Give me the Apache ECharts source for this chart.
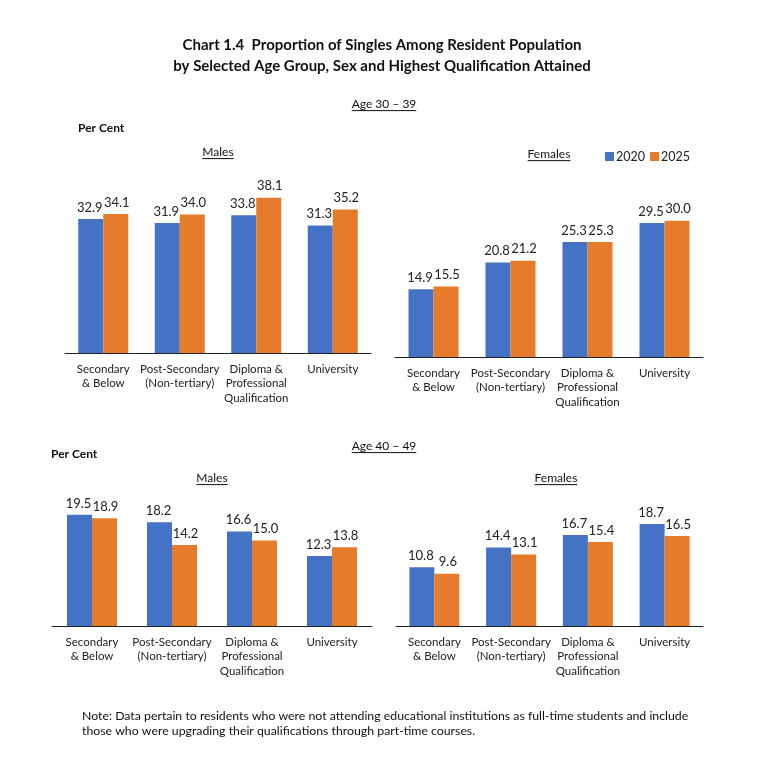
<!DOCTYPE html>
<html>
<head>
<meta charset="utf-8">
<script src="https://cdn.jsdelivr.net/npm/echarts@6/dist/echarts.min.js"></script>
<style>
  html, body { margin: 0; padding: 0; background: #fff; }
  #chart { width: 757px; height: 767px; }
</style>
</head>
<body>
<div id="chart"></div>
<script>
// categories and values
var categories = ['Secondary\n& Below', 'Post-Secondary\n(Non-tertiary)', 'Diploma &\nProfessional\nQualification', 'University'];
var years = ['2020', '2025'];

var male30_2020 = [32.9, 31.9, 33.8, 31.3];
var male30_2025 = [34.1, 34.0, 38.1, 35.2];
var female30_2020 = [14.9, 20.8, 25.3, 29.5];
var female30_2025 = [15.5, 21.2, 25.3, 30.0];

var male40_2020 = [19.5, 18.2, 16.6, 12.3];
var male40_2025 = [18.9, 14.2, 15.0, 13.8];
var female40_2020 = [10.8, 14.4, 16.7, 18.7];
var female40_2025 = [9.6, 13.1, 15.4, 16.5];

var FONT = 'Lato, "Open Sans", sans-serif';
var BLUE = '#4472C4', ORANGE = '#E67B2B';

// grid boxes per panel (px)
var panels = [
    {left: 65, top: 190, width: 306, height: 163, max: 40, data: [male30_2020, male30_2025]},
    {left: 395, top: 198, width: 308, height: 159, max: 35, data: [female30_2020, female30_2025]},
    {left: 52, top: 512, width: 320, height: 114, max: 20, data: [male40_2020, male40_2025]},
    {left: 396, top: 517, width: 307, height: 109, max: 20, data: [female40_2020, female40_2025]}
];

// measure text so underlines fit
var ctx = document.createElement('canvas').getContext('2d');
function underlined(str, cx, cy, size, weight) {
    ctx.font = (weight || 'normal') + ' ' + size + 'px ' + FONT;
    var w = ctx.measureText(str).width;
    return {
        type: 'group',
        children: [
            {type: 'text', x: cx, y: cy, style: {text: str, font: (weight || 'normal') + ' ' + size + 'px ' + FONT,
                fill: '#111', align: 'center', verticalAlign: 'middle'}},
            {type: 'line', shape: {x1: cx - w / 2, y1: cy + size * 0.55, x2: cx + w / 2, y2: cy + size * 0.55},
                style: {stroke: '#111', lineWidth: 1}}
        ]
    };
}
function plain(str, x, y, size, weight, align) {
    return {type: 'text', x: x, y: y, style: {text: str, font: (weight || 'normal') + ' ' + size + 'px ' + FONT,
        fill: '#111', align: align || 'left', verticalAlign: 'middle'}};
}

var grids = [], xAxes = [], yAxes = [], series = [];
panels.forEach(function (p, i) {
    grids.push({left: p.left, top: p.top, width: p.width, height: p.height});
    xAxes.push({
        type: 'category', gridIndex: i, data: categories,
        axisLine: {lineStyle: {color: '#222', width: 1}},
        axisTick: {length: 5, lineStyle: {color: '#222'}},
        axisLabel: {fontFamily: FONT, fontSize: 11.5, color: '#222', lineHeight: 14.5, margin: 9, interval: 0}
    });
    yAxes.push({type: 'value', gridIndex: i, min: 0, max: p.max, show: false, splitLine: {show: false}});
    p.data.forEach(function (vals, k) {
        series.push({
            name: years[k], type: 'bar', xAxisIndex: i, yAxisIndex: i,
            data: vals, barWidth: 25, barGap: '0%',
            itemStyle: {color: k === 0 ? BLUE : ORANGE},
            label: {show: true, position: 'top', distance: 5, fontFamily: FONT, fontSize: 13, color: '#222',
                offset: [k === 0 ? -1 : 1, 0],
                formatter: function (d) { return d.value.toFixed(1); }},
            emphasis: {disabled: true}
        });
    });
});

var option = {
    animation: false,
    backgroundColor: '#fff',
    grid: grids,
    xAxis: xAxes,
    yAxis: yAxes,
    legend: {
        data: years, left: 600, top: 145, icon: 'rect', itemWidth: 9, itemHeight: 9, itemGap: 5,
        textStyle: {fontFamily: FONT, fontSize: 12.5, color: '#222', padding: [0, 0, 0, -3]}
    },
    series: series,
    graphic: [
        plain('Chart 1.4  Proportion of Singles Among Resident Population', 382, 45, 15, 'bold', 'center'),
        plain('by Selected Age Group, Sex and Highest Qualification Attained', 382, 66, 15, 'bold', 'center'),
        underlined('Age 30 \u2013 39', 384, 104, 12),
        plain('Per Cent', 78, 128, 12, 'bold'),
        underlined('Males', 218, 152, 12),
        underlined('Females', 549, 154, 12),
        underlined('Age 40 \u2013 49', 384, 446, 12),
        plain('Per Cent', 51, 454, 12, 'bold'),
        underlined('Males', 212, 478, 12),
        underlined('Females', 556, 478, 12),
        plain('Note: Data pertain to residents who were not attending educational institutions as full-time students and include', 82, 716, 12.3),
        plain('those who were upgrading their qualifications through part-time courses.', 82, 731, 12.3)
    ]
};

var myChart = echarts.init(document.getElementById('chart'));
myChart.setOption(option);
</script>
</body>
</html>
